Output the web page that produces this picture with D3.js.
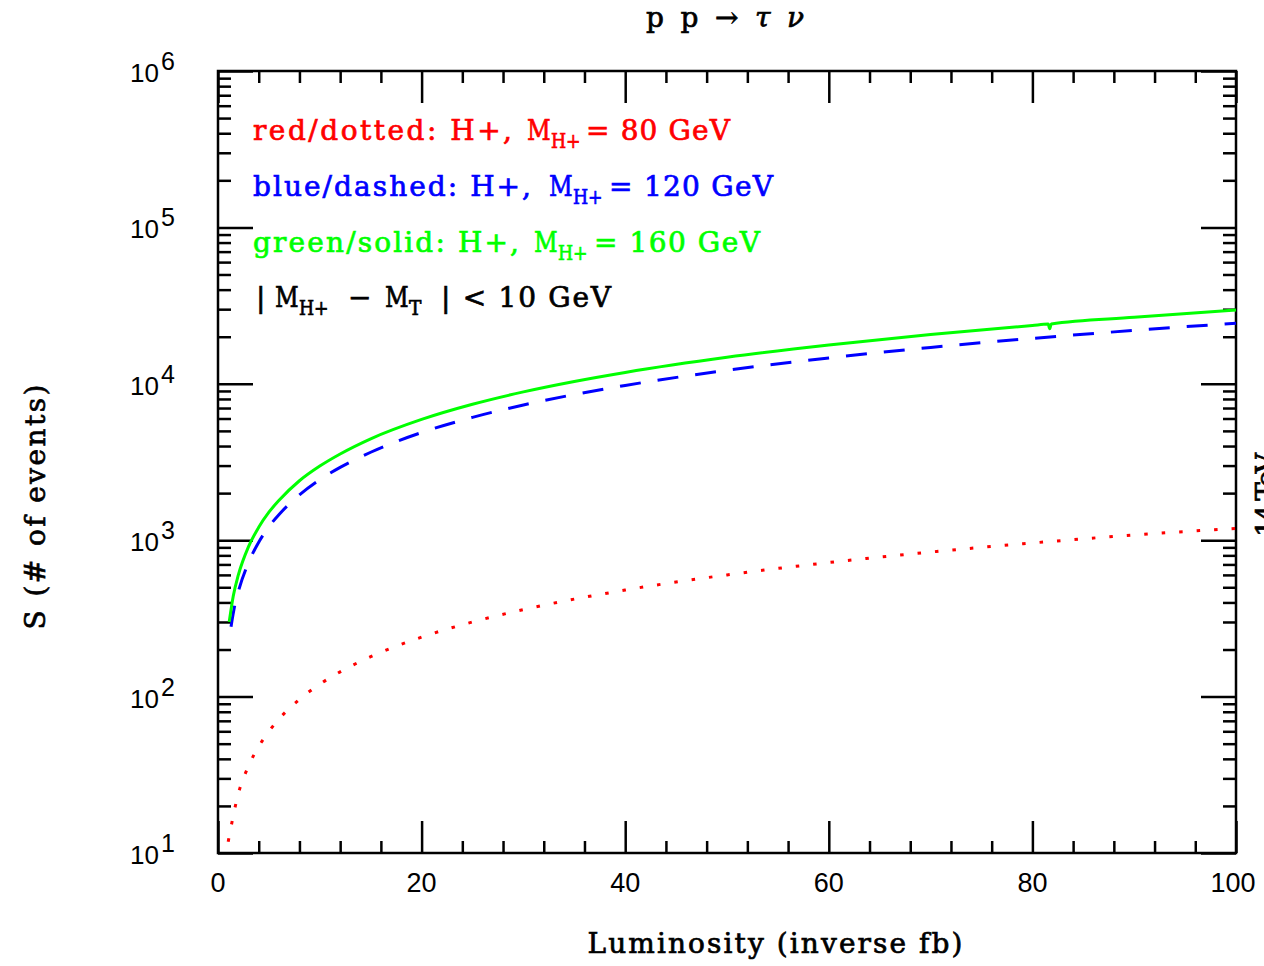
<!DOCTYPE html>
<html>
<head>
<meta charset="utf-8">
<script src="https://cdn.jsdelivr.net/npm/d3@7"></script>
<style>
  html, body { margin: 0; padding: 0; background: #fff; }
  svg { display: block; }
  .serif { font-family: "DejaVu Serif", "Liberation Serif", serif; stroke-width: 0.7px; }
  .sans { font-family: "Liberation Sans", Arial, sans-serif; }
</style>
</head>
<body>
<svg id="chart" width="1264" height="966"></svg>
<script>
// Signal event counts S versus integrated luminosity for three charged-Higgs masses
const greenLumi = [1.1, 1.5, 2, 3, 4, 5, 6, 8, 10, 12, 15, 20, 25, 30, 35, 40, 50, 60, 70, 80, 81.55, 81.7, 81.85, 90, 100];
const greenS    = [300, 440, 600, 910, 1210, 1510, 1800, 2400, 2980, 3560, 4450, 5920, 7400, 8880, 10350, 11820, 14770, 17700, 20650, 23600, 24080, 22500, 24120, 26600, 29600];

const blueLumi = [1.28, 1.6, 2, 3, 4, 5, 6, 8, 10, 12, 15, 20, 25, 30, 35, 40, 50, 60, 70, 80, 90, 100];
const blueS    = [280, 370, 470, 720, 970, 1220, 1460, 1950, 2440, 2920, 3650, 4880, 6100, 7320, 8540, 9760, 12200, 14640, 17080, 19520, 21960, 24400];

const redLumi = [1, 2, 3, 4, 5, 6, 8, 10, 12, 15, 20, 25, 30, 40, 50, 60, 70, 80, 90, 100];
const redS    = [11.8, 24, 36, 48, 60, 72, 96, 120, 144, 180, 240, 300, 360, 480, 600, 720, 840, 960, 1080, 1190];

const xMajorTicks = [0, 20, 40, 60, 80, 100];
const xMinorTicks = [4, 8, 12, 16, 24, 28, 32, 36, 44, 48, 52, 56, 64, 68, 72, 76, 84, 88, 92, 96];
const yDecades = [1, 2, 3, 4, 5, 6];

const svg = d3.select("#chart");
const plotL = 218, plotR = 1236, plotT = 71, plotB = 853;

const x = d3.scaleLinear().domain([0, 100]).range([plotL, plotR]);
const y = d3.scaleLog().domain([10, 1e6]).range([plotB, plotT]);

const yMinor = [];
yDecades.slice(0, -1).forEach(p => { for (let m = 2; m <= 9; m++) yMinor.push(m * Math.pow(10, p)); });
const yMajor = yDecades.map(p => Math.pow(10, p));

// tick marks on all four sides, pointing into the frame
function tickAxis(axisFn, scale, values, size, transform) {
  const g = svg.append("g").attr("transform", transform)
    .call(axisFn(scale).tickValues(values).tickSizeInner(-size).tickSizeOuter(0).tickFormat(""));
  g.select(".domain").remove();
  g.selectAll(".tick line").attr("stroke", "#000").attr("stroke-width", 2.5);
  return g;
}
tickAxis(d3.axisBottom, x, xMajorTicks, 32, `translate(0,${plotB})`);
tickAxis(d3.axisBottom, x, xMinorTicks, 12, `translate(0,${plotB})`);
tickAxis(d3.axisTop, x, xMajorTicks, 32, `translate(0,${plotT})`);
tickAxis(d3.axisTop, x, xMinorTicks, 12, `translate(0,${plotT})`);
tickAxis(d3.axisLeft, y, yMajor, 35, `translate(${plotL},0)`);
tickAxis(d3.axisLeft, y, yMinor, 13, `translate(${plotL},0)`);
tickAxis(d3.axisRight, y, yMajor, 35, `translate(${plotR},0)`);
tickAxis(d3.axisRight, y, yMinor, 13, `translate(${plotR},0)`);

svg.append("rect")
  .attr("x", plotL).attr("y", plotT).attr("width", plotR - plotL).attr("height", plotB - plotT)
  .attr("fill", "none").attr("stroke", "#000").attr("stroke-width", 2.5);

// x tick labels
svg.append("g").selectAll("text").data(xMajorTicks).join("text")
  .attr("class", "sans")
  .attr("x", d => x(d) - (d === 100 ? 3 : 0)).attr("y", plotB + 39)
  .attr("text-anchor", "middle").attr("font-size", 27)
  .text(d => d);

// y tick labels 10^n
const yl = svg.append("g").selectAll("text").data(yDecades).join("text")
  .attr("class", "sans")
  .attr("x", 130).attr("y", d => y(Math.pow(10, d)) + 11)
  .attr("font-size", 26);
yl.append("tspan").text("10");
yl.append("tspan").attr("dy", -12).attr("dx", 2).attr("font-size", 25).text(d => d);

// curves
const line = (lx, ly) => d3.line()
  .x((d, i) => x(lx[i])).y(d => y(d))
  .curve(d3.curveMonotoneX)(ly);

svg.append("path").attr("d", line(redLumi, redS))
  .attr("fill", "none").attr("stroke", "#ff0000").attr("stroke-width", 3)
  .attr("stroke-dasharray", "3.5,14");
svg.append("path").attr("d", line(blueLumi, blueS))
  .attr("fill", "none").attr("stroke", "#0000ff").attr("stroke-width", 3)
  .attr("stroke-dasharray", "21,17");
svg.append("path").attr("d", line(greenLumi, greenS))
  .attr("fill", "none").attr("stroke", "#00ff00").attr("stroke-width", 3);

// legend: plain runs of text plus "M" symbols carrying a lowered subscript
const legendRows = [
  { color: "#ff0000", base: 140, pieces: [
    { t: "red/dotted: H+,", x: 253, w: 259 }, { m: "H+", x: 527 }, { t: "= 80 GeV", x: 586, w: 144 } ] },
  { color: "#0000ff", base: 196, pieces: [
    { t: "blue/dashed: H+,", x: 253, w: 278 }, { m: "H+", x: 549 }, { t: "= 120 GeV", x: 609, w: 164 } ] },
  { color: "#00ff00", base: 252, pieces: [
    { t: "green/solid: H+,", x: 253, w: 266 }, { m: "H+", x: 534 }, { t: "= 160 GeV", x: 594, w: 166 } ] },
  { color: "#000000", base: 307, pieces: [
    { t: "|", x: 256 }, { m: "H+", x: 275 }, { t: "\u2212", x: 348, w: 22 },
    { m: "T", x: 385 }, { t: "| < 10 GeV", x: 441, w: 170 } ] }
];
const mScale = 0.825;
legendRows.forEach(row => {
  row.pieces.forEach(p => {
    const t = svg.append("text").attr("class", "serif")
      .attr("fill", row.color).attr("stroke", row.color);
    if (p.m) {
      t.attr("transform", `translate(${p.x},${row.base}) scale(${mScale},1)`)
        .attr("font-size", 28);
      t.append("tspan").attr("x", 0).attr("y", 0).text("M");
      t.append("tspan").attr("x", 29).attr("y", 8).attr("font-size", 20)
        .attr("textLength", p.m === "T" ? 15 : 36).attr("lengthAdjust", "spacingAndGlyphs")
        .text(p.m);
    } else {
      t.attr("x", p.x).attr("y", row.base).attr("font-size", 28).text(p.t);
      if (p.w) t.attr("textLength", p.w).attr("lengthAdjust", "spacing");
    }
  });
});

// title and axis titles
const title = svg.append("text").attr("class", "serif")
  .attr("x", 725).attr("y", 27).attr("text-anchor", "middle").attr("font-size", 28)
  .attr("stroke", "#000")
  .attr("textLength", 158).attr("lengthAdjust", "spacing");
title.append("tspan").text("p p \u2192 ");
title.append("tspan").attr("font-style", "italic").text("\u03c4 \u03bd");

svg.append("text").attr("class", "serif")
  .attr("x", 775).attr("y", 953).attr("text-anchor", "middle").attr("font-size", 28)
  .attr("stroke", "#000")
  .attr("textLength", 375).attr("lengthAdjust", "spacing")
  .text("Luminosity (inverse fb)");
svg.append("text").attr("class", "serif")
  .attr("transform", "translate(45,507) rotate(-90)")
  .attr("text-anchor", "middle").attr("font-size", 28)
  .attr("stroke", "#000")
  .attr("textLength", 245).attr("lengthAdjust", "spacing")
  .text("S (# of events)");

// side annotation, running off the right edge
svg.append("text").attr("class", "serif")
  .attr("transform", "translate(1276,495) rotate(-90)")
  .attr("text-anchor", "middle").attr("font-size", 28)
  .attr("stroke", "#000")
  .attr("textLength", 84).attr("lengthAdjust", "spacing")
  .text("14 TeV");
</script>
</body>
</html>
